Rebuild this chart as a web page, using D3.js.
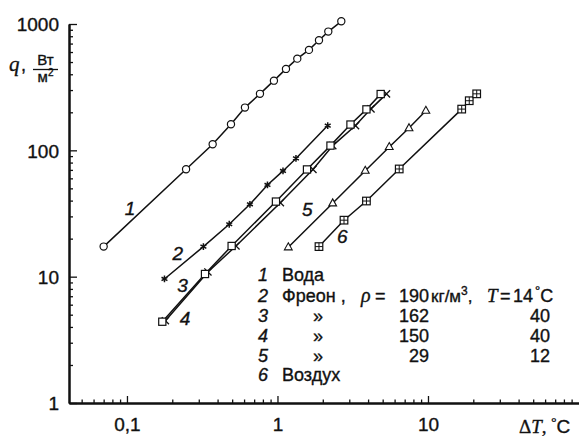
<!DOCTYPE html>
<html><head><meta charset="utf-8">
<script src="https://cdn.jsdelivr.net/npm/d3@7"></script>
<style>
html,body{margin:0;padding:0;background:#fff;}
svg{display:block;font-family:"Liberation Sans",Arial,sans-serif;}
svg text{stroke:#111;stroke-width:0.35px;}
</style></head>
<body>
<svg id="chart" width="582" height="437"></svg>
<script>
// ---- data ----
const s1x = [0.07, 0.247, 0.371, 0.491, 0.608, 0.765, 0.947, 1.139, 1.354, 1.619, 1.887, 2.176, 2.655];
const s1y = [17.3, 70.8, 111.7, 161, 218, 280, 356, 441, 532, 624, 744, 871, 1050];
const s2x = [0.1775, 0.322, 0.478, 0.656, 0.858, 1.088, 1.327, 2.157];
const s2y = [9.59, 17.3, 26.0, 37.4, 53.2, 68.7, 86.3, 157];
const s3x = [0.18, 0.345, 0.53, 1.045, 1.72, 2.33, 3.30, 4.18, 5.30];
const s3y = [4.48, 10.9, 17.5, 38.5, 70.6, 109, 157, 213, 280];
const s4x = [0.1717, 0.33, 0.496, 0.977, 1.571, 2.25, 3.055, 3.90, 4.85];
const s4y = [4.40, 10.5, 17.5, 39.3, 70.6, 109, 160, 211, 279];
const s5x = [1.18, 2.327, 3.83, 5.53, 7.48, 9.68];
const s5y = [17.1, 38.1, 69, 106.4, 150, 206];
const s6x = [1.887, 2.767, 3.90, 6.44, 16.75, 18.8, 21.07];
const s6y = [17.3, 28.0, 39.7, 71.2, 212, 247, 280];

const xDomain = [0.0412, 100];
const yDomain = [1, 1000];
const xMajor = [0.1, 1, 10];
const xMajorLabels = ["0,1", "1", "10"];
const xMinor = [0.05,0.06,0.07,0.08,0.09,0.2,0.3,0.4,0.5,0.6,0.7,0.8,0.9,2,3,4,5,6,7,8,9,20,30,40,50,60,70,80,90];
const yMajor = [1, 10, 100, 1000];
const yMajorLabels = ["1", "10", "100", "1000"];
const yMinor = [2,3,4,5,6,7,8,9,20,30,40,50,60,70,80,90,200,300,400,500,600,700,800,900];

const curveNames = ["1","2","3","4","5","6"];
const curveLabelX = [0.1047, 0.218, 0.234, 0.243, 1.58, 2.70];
const curveLabelY = [30.8, 13.6, 7.6, 4.15, 30.2, 18.4];

const legendNums = ["1","2","3","4","5","6"];
const legendNames = ["Вода", "Фреон ,", "»", "»", "»", "Воздух"];
const legendRho = ["", "190", "162", "150", "29", ""];
const legendT = ["", "14", "40", "40", "12", ""];

// ---- layout ----
const svg = d3.select("#chart");
const x = d3.scaleLog().domain(xDomain).range([69, 578.5]);
const y = d3.scaleLog().domain(yDomain).range([403, 24]);
const ink = "#111";

// axes
const gx = svg.append("g").attr("transform", "translate(0,403)");
gx.call(d3.axisBottom(x).tickValues(xMinor).tickSizeInner(-3.5).tickSizeOuter(0).tickFormat(""));
gx.append("g").call(d3.axisBottom(x).tickValues(xMajor).tickSizeInner(-7).tickSizeOuter(0).tickPadding(15)
  .tickFormat((d,i)=>xMajorLabels[i]));
const gy = svg.append("g").attr("transform", "translate(69,0)");
gy.call(d3.axisLeft(y).tickValues(yMinor).tickSizeInner(-4).tickSizeOuter(0).tickFormat(""));
gy.append("g").call(d3.axisLeft(y).tickValues(yMajor).tickSizeInner(-8).tickSizeOuter(0).tickPadding(10)
  .tickFormat((d,i)=>yMajorLabels[i]));
svg.selectAll(".domain").attr("stroke", ink).attr("stroke-width", 2);
svg.selectAll(".tick line").attr("stroke", ink).attr("stroke-width", 1.3);
svg.selectAll(".tick text").attr("font-size", 19).attr("fill", ink)
  .attr("font-family", "Liberation Sans, Arial, sans-serif");
gy.selectAll(".tick text").attr("dy", "0.36em");

// lines
const line = d3.line().x(d=>x(d[0])).y(d=>y(d[1]));
const series = [[s1x,s1y],[s2x,s2y],[s3x,s3y],[s4x,s4y],[s5x,s5y],[s6x,s6y]]
  .map(([xs,ys]) => xs.map((v,i)=>[v, ys[i]]));
series.forEach(pts => {
  svg.append("path").datum(pts).attr("d", line).attr("fill","none")
    .attr("stroke", ink).attr("stroke-width", 1.5);
});

// markers
function drawMarker(g, type) {
  if (type === 0) {
    g.append("circle").attr("r", 3.6).attr("fill","#fff").attr("stroke",ink).attr("stroke-width",1.2);
  } else if (type === 1) {
    const r = 3.4;
    let p = "";
    for (let k=0;k<3;k++){ const a = Math.PI/2 + k*Math.PI/3;
      p += `M${-r*Math.cos(a)},${-r*Math.sin(a)}L${r*Math.cos(a)},${r*Math.sin(a)}`; }
    g.append("path").attr("d", p).attr("stroke", ink).attr("stroke-width", 1.5);
  } else if (type === 2) {
    const r = 3.6;
    g.append("path").attr("d", `M${-r},${-r}L${r},${r}M${-r},${r}L${r},${-r}`)
      .attr("stroke", ink).attr("stroke-width", 1.3);
  } else if (type === 3) {
    g.append("rect").attr("x",-3.6).attr("y",-3.6).attr("width",7.2).attr("height",7.2)
      .attr("fill","#fff").attr("stroke",ink).attr("stroke-width",1.2);
  } else if (type === 4) {
    g.append("path").attr("d","M0,-4.4L3.9,2.6L-3.9,2.6Z").attr("fill","#fff")
      .attr("stroke",ink).attr("stroke-width",1.1);
  } else {
    g.append("rect").attr("x",-3.8).attr("y",-3.8).attr("width",7.6).attr("height",7.6)
      .attr("fill","#fff").attr("stroke",ink).attr("stroke-width",1.2);
    g.append("path").attr("d","M-3.8,0L3.8,0M0,-3.8L0,3.8").attr("stroke",ink).attr("stroke-width",1);
  }
}
series.forEach((pts, si) => {
  pts.forEach(p => {
    const g = svg.append("g").attr("transform", `translate(${x(p[0])},${y(p[1])})`);
    drawMarker(g, si);
  });
});

// curve labels
curveNames.forEach((n,i) => {
  svg.append("text").attr("x", x(curveLabelX[i])).attr("y", y(curveLabelY[i]))
    .attr("text-anchor","middle").attr("font-size",19).attr("font-style","italic")
    .attr("fill",ink).text(n);
});

// legend
const rowY = [281, 301.5, 322, 342, 362, 381];
legendNums.forEach((n,i) => {
  const ty = rowY[i];
  svg.append("text").attr("x",258).attr("y",ty).attr("font-size",18).attr("font-style","italic")
    .attr("fill",ink).text(n);
  if (legendNames[i] === "»") {
    svg.append("text").attr("x",313).attr("y",ty).attr("font-size",18).attr("fill",ink).text("»");
  } else {
    svg.append("text").attr("x",282).attr("y",ty).attr("font-size",18).attr("fill",ink).text(legendNames[i]);
  }
  if (legendRho[i]) {
    svg.append("text").attr("x",429).attr("y",ty).attr("text-anchor","end")
      .attr("font-size",18).attr("fill",ink).text(legendRho[i]);
  }
  if (legendT[i] && i !== 1) {
    svg.append("text").attr("x",550).attr("y",ty).attr("text-anchor","end")
      .attr("font-size",18).attr("fill",ink).text(legendT[i]);
  }
});
// row 2 details
const r2 = rowY[1];
svg.append("text").attr("x",361).attr("y",r2).attr("font-size",20).attr("font-style","italic")
  .attr("font-family","Liberation Serif, serif").attr("fill",ink).text("ρ");
svg.append("text").attr("x",375).attr("y",r2).attr("font-size",18).attr("fill",ink).text("=");
const kg = svg.append("text").attr("x",431).attr("y",r2).attr("font-size",17).attr("fill",ink);
kg.append("tspan").text("кг/м");
kg.append("tspan").attr("font-size",12).attr("dy",-7).text("3");
kg.append("tspan").attr("dy",7).text(",");
svg.append("text").attr("x",487).attr("y",r2).attr("font-size",19).attr("font-style","italic")
  .attr("font-family","Liberation Serif, serif").attr("fill",ink).text("T");
svg.append("text").attr("x",500).attr("y",r2).attr("font-size",18).attr("fill",ink).text("=");
const tc = svg.append("text").attr("x",513).attr("y",r2).attr("font-size",18).attr("fill",ink);
tc.append("tspan").text("14");
tc.append("tspan").attr("font-size",13).attr("dy",-7).attr("dx",2).text("°");
tc.append("tspan").attr("dy",7).text("C");

// axis titles
svg.append("text").attr("x",9).attr("y",71).attr("font-size",21).attr("font-style","italic")
  .attr("font-family","Liberation Serif, serif").attr("fill",ink).text("q");
svg.append("text").attr("x",21).attr("y",71).attr("font-size",18).attr("fill",ink).text(",");
svg.append("text").attr("x",45.5).attr("y",65).attr("text-anchor","middle").attr("font-size",15)
  .attr("fill",ink).text("Вт");
svg.append("line").attr("x1",33).attr("x2",58).attr("y1",69.5).attr("y2",69.5)
  .attr("stroke",ink).attr("stroke-width",1.3);
const m2 = svg.append("text").attr("x",45.5).attr("y",82).attr("text-anchor","middle")
  .attr("font-size",15).attr("fill",ink);
m2.append("tspan").text("м");
m2.append("tspan").attr("font-size",10).attr("dy",-6).text("2");

const xt = svg.append("text").attr("x",519).attr("y",433).attr("font-size",19).attr("fill",ink)
  .attr("font-family","Liberation Serif, serif");
xt.append("tspan").text("Δ");
xt.append("tspan").attr("font-style","italic").text("T");
xt.append("tspan").text(", ");
xt.append("tspan").attr("font-size",13).attr("dy",-7).text("°");
xt.append("tspan").attr("dy",7).attr("font-family","Liberation Sans, Arial, sans-serif").text("C");
</script>
</body></html>
